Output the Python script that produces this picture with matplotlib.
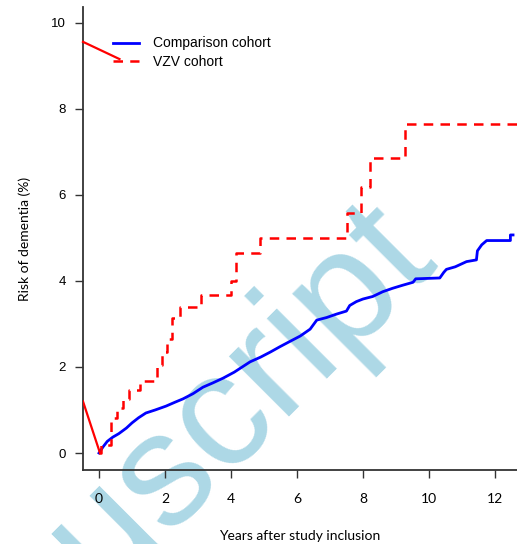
import matplotlib
matplotlib.use("Agg")
import matplotlib.pyplot as plt

# comparison cohort cumulative risk (%)
comp_t = [0, 0.12, 0.25, 0.42, 0.6, 0.83, 1.0, 1.2, 1.42, 1.7, 2.03, 2.3, 2.55,
          2.85, 3.15, 3.45, 3.76, 4.1, 4.3, 4.58, 4.9, 5.2, 5.48, 5.8, 6.1, 6.4,
          6.6, 6.9, 7.2, 7.5, 7.6, 7.8, 8.0, 8.3, 8.6, 8.9, 9.2, 9.52, 9.6,
          10.33, 10.45, 10.53, 10.8, 11.14, 11.44, 11.47, 11.6, 11.75, 12.47, 12.47, 12.55]
comp_y = [0, 0.14, 0.27, 0.37, 0.45, 0.58, 0.7, 0.82, 0.93, 1.0, 1.09, 1.18, 1.26,
          1.38, 1.53, 1.63, 1.74, 1.88, 1.98, 2.12, 2.23, 2.35, 2.47, 2.6, 2.72, 2.88,
          3.09, 3.15, 3.23, 3.3, 3.43, 3.52, 3.58, 3.64, 3.75, 3.83, 3.9, 3.97, 4.05,
          4.07, 4.2, 4.27, 4.33, 4.45, 4.49, 4.7, 4.84, 4.94, 4.94, 5.07, 5.07]

# VZV cohort
vzv_t = [0, 0.05, 0.37, 0.55, 0.72, 0.9, 1.25, 1.76, 1.9, 2.05, 2.2, 2.45, 3.1,
         4.0, 4.15, 4.88, 7.53, 7.94, 8.21, 9.29, 12.7]
vzv_y = [0, 0.19, 0.81, 1.05, 1.26, 1.47, 1.67, 2.05, 2.35, 2.65, 3.14, 3.39, 3.67,
         4.0, 4.65, 5.0, 5.58, 6.19, 6.87, 7.65, 7.65]

# stray red segments that show up in the original figure
stray_top = ([-0.485, 0.62], [9.56, 9.16])
stray_bottom = ([-0.485, 0.03], [1.2, 0.0])

xticks = [0, 2, 4, 6, 8, 10, 12]
yticks = [0, 2, 4, 6, 8, 10]

fig = plt.figure(figsize=(5.17, 5.44), dpi=100)
ax = fig.add_axes([83 / 517, 74 / 544, 434 / 517, 463 / 544])
ax.set_facecolor('none')

# comparison curve has very fine steps, so a plain line looks closer
ax.plot(comp_t, comp_y, color='#0000ff', lw=2.0, zorder=3,
        label='Comparison cohort')
ax.step(vzv_t, vzv_y, where='post', color='#ff0000', lw=1.8, zorder=3,
        dashes=(3.8, 2.9), label='VZV cohort')
ax.plot(*stray_top, color='#ff0000', lw=1.6, zorder=3, clip_on=False)
ax.plot(*stray_bottom, color='#ff0000', lw=1.6, zorder=3)

ax.set_xlim(-0.485, 12.67)
ax.set_ylim(-0.395, 10.37)

for s in ['top', 'right']:
    ax.spines[s].set_visible(False)
for s in ['left', 'bottom']:
    ax.spines[s].set_color('#333333')
    ax.spines[s].set_linewidth(1.3)

ax.set_xticks(xticks)
ax.set_yticks(yticks)
ax.tick_params(axis='both', direction='out', length=5.5, width=1.0, color='#333333')
ax.tick_params(axis='y', pad=7)
ax.tick_params(axis='x', pad=11)
for lab in ax.get_yticklabels():
    lab.set_family('Liberation Sans')
    lab.set_fontsize(9.5)
for lab in ax.get_xticklabels():
    lab.set_family('Lato')
    lab.set_fontsize(10)

ax.set_xlabel('Years after study inclusion', family='Lato', fontsize=10, labelpad=18)
ax.set_ylabel('Risk of dementia (%)', family='Lato', fontsize=10, labelpad=14)

leg = ax.legend(loc='upper left', bbox_to_anchor=(100 / 517, 1 - 24 / 544),
                bbox_transform=fig.transFigure, frameon=False,
                handlelength=1.9, handletextpad=1.0, labelspacing=0.35,
                prop={'family': 'Liberation Sans', 'size': 10})

# watermark
ax.text(437 / 517, 1 - 256 / 544, 'Manuscript', transform=fig.transFigure,
        rotation=45, rotation_mode='anchor', ha='right', va='baseline',
        family='Liberation Sans', fontsize=116, color='#add8e6',
        zorder=1, clip_on=False)

fig.savefig('out.png', dpi=100)
